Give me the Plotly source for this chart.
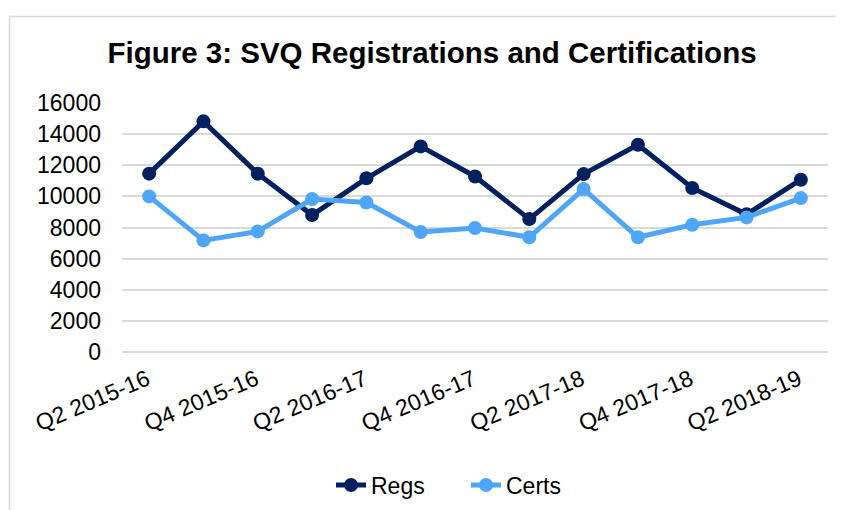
import plotly.graph_objects as go

quarters = ["Q2 2015-16", "Q3 2015-16", "Q4 2015-16", "Q1 2016-17", "Q2 2016-17",
            "Q3 2016-17", "Q4 2016-17", "Q1 2017-18", "Q2 2017-18", "Q3 2017-18",
            "Q4 2017-18", "Q1 2018-19", "Q2 2018-19"]
regs = [11460, 14820, 11460, 8800, 11160, 13210, 11280, 8540, 11430, 13320, 10540, 8850, 11070]
certs = [10000, 7170, 7750, 9830, 9610, 7710, 7970, 7370, 10470, 7370, 8180, 8650, 9890]
y_ticks = [0, 2000, 4000, 6000, 8000, 10000, 12000, 14000, 16000]
y_tick_labels = [str(v) for v in y_ticks]
x_tick_labels = quarters[::2]

FONT = "Liberation Sans, Arial, sans-serif"

fig = go.Figure()
fig.add_trace(go.Scatter(x=quarters, y=regs, name="Regs", mode="lines+markers",
                         line=dict(color="#002060", width=5),
                         marker=dict(color="#002060", size=14)))
fig.add_trace(go.Scatter(x=quarters, y=certs, name="Certs", mode="lines+markers",
                         line=dict(color="#4FA6F8", width=5),
                         marker=dict(color="#4FA6F8", size=14)))

# page body has an 8px margin; work in page pixel coordinates and shift
OFF = 8
W, H = 844 - OFF, 510 - OFF
PL, PR, PT, PB = 122, 828, 103, 352  # plot area in page pixels
L, T = PL - OFF, PT - OFF
R, B = W - (PR - OFF), H - (PB - OFF)
pw, ph = W - L - R, H - T - B

def px(x):
    return (x - OFF - L) / pw

def py(y):
    return (H - B - (y - OFF)) / ph

fig.add_shape(type="rect", xref="paper", yref="paper",
              x0=px(9.5), x1=px(870), y0=py(540), y1=py(16.5),
              line=dict(color="#D9D9D9", width=1.5), fillcolor="rgba(0,0,0,0)", layer="below")

fig.update_layout(
    width=W, height=H,
    margin=dict(l=L, r=R, t=T, b=B, autoexpand=False),
    paper_bgcolor="white", plot_bgcolor="white",
    font=dict(family=FONT, size=23, color="#000000"),
    title=dict(text="<b>Figure 3: SVQ Registrations and Certifications</b>",
               xref="container", yref="container",
               x=(432 - OFF) / W, xanchor="center", y=1 - (53 - OFF) / H, yanchor="middle",
               font=dict(family=FONT, size=29.5, color="#000000")),
    showlegend=True,
    legend=dict(orientation="h", x=px(331), xanchor="left", y=py(485), yanchor="middle",
                font=dict(family=FONT, size=23, color="#000000"),
                entrywidth=90, entrywidthmode="pixels",
                bgcolor="rgba(0,0,0,0)"),
    xaxis=dict(type="category", tickmode="array", tickvals=x_tick_labels, ticktext=x_tick_labels,
               tickangle=-23, showgrid=False, showline=False, zeroline=False, ticks="",
               automargin=False, ticklabelstandoff=9, ticklabelshift=-2,
               tickfont=dict(family=FONT, size=23, color="#000000"),
               range=[-0.5, len(quarters) - 0.5]),
    yaxis=dict(range=[0, 16000], tickmode="array", tickvals=y_ticks, ticktext=y_tick_labels,
               showgrid=True, gridcolor="#D9D9D9", gridwidth=1.5,
               zeroline=True, zerolinecolor="#D9D9D9", zerolinewidth=1.5,
               showline=False, ticks="", ticklabelstandoff=20, automargin=False,
               tickfont=dict(family=FONT, size=23, color="#000000")),
)

fig.write_html("out.html")
